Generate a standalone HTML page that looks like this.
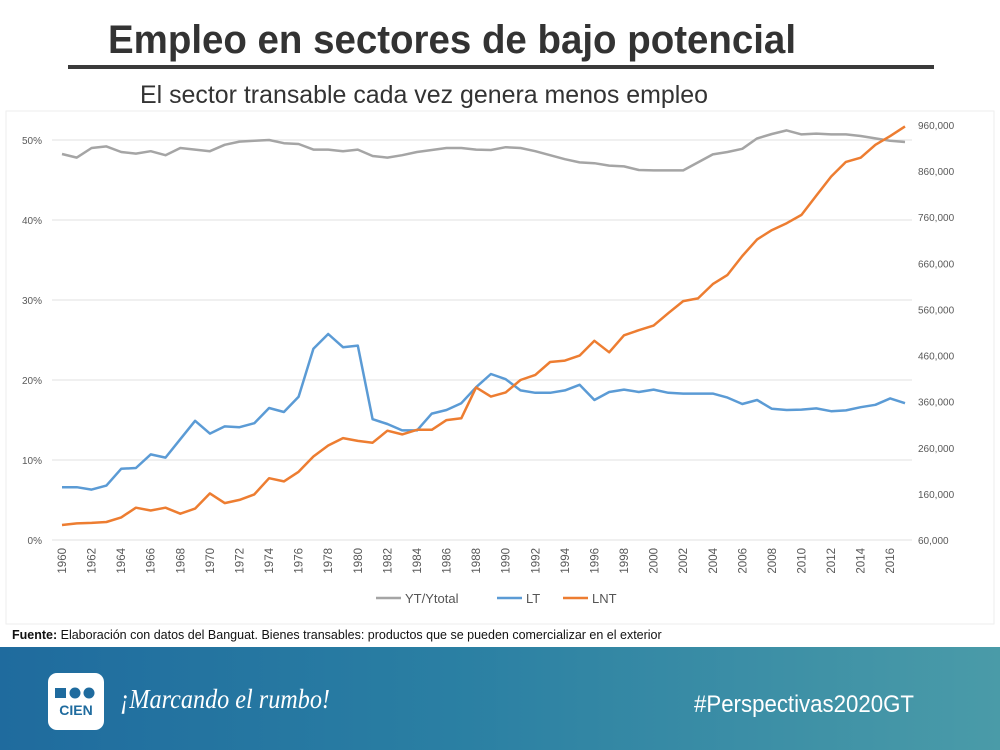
<!DOCTYPE html>
<html><head><meta charset="utf-8"><style>
html,body{margin:0;padding:0;width:1000px;height:750px;overflow:hidden;background:#fff}
svg{display:block}
</style></head><body>
<svg id="s" width="1000" height="750" viewBox="0 0 1000 750" xmlns="http://www.w3.org/2000/svg" font-family="'Liberation Sans Narrow','Liberation Sans',sans-serif">
<defs>
<linearGradient id="band" x1="0" x2="1" y1="0" y2="0"><stop offset="0" stop-color="#1f6b9e"/><stop offset="0.45" stop-color="#2a7fa3"/><stop offset="1" stop-color="#4a9ba8"/></linearGradient>
</defs>
<text x="108" y="53" font-size="40" font-weight="bold" fill="#333" textLength="688" lengthAdjust="spacingAndGlyphs">Empleo en sectores de bajo potencial</text>
<rect x="68" y="65" width="866" height="4" fill="#3a3a3a"/>
<text x="140" y="103" font-size="25" fill="#333" textLength="568" lengthAdjust="spacingAndGlyphs">El sector transable cada vez genera menos empleo</text>
<rect x="6" y="111" width="988" height="513" fill="#fff" stroke="#eee"/>
<g id="grid"></g>
<g id="series"></g>
<g id="axes" font-family="'Liberation Sans',sans-serif"></g>
<g font-family="'Liberation Sans',sans-serif" font-size="13" fill="#555">
<line x1="376" y1="598" x2="401" y2="598" stroke="#a5a5a5" stroke-width="2.5"/>
<text x="405" y="603">YT/Ytotal</text>
<line x1="497" y1="598" x2="522" y2="598" stroke="#5b9bd5" stroke-width="2.5"/>
<text x="526" y="603">LT</text>
<line x1="563" y1="598" x2="588" y2="598" stroke="#ed7d31" stroke-width="2.5"/>
<text x="592" y="603">LNT</text>
</g>
<text x="12" y="639" font-size="12.5" fill="#111"><tspan font-weight="bold">Fuente:</tspan> Elaboración con datos del Banguat. Bienes transables: productos que se pueden comercializar en el exterior</text>
<rect x="0" y="647" width="1000" height="103" fill="url(#band)"/>
<g>
<rect x="48" y="673" width="56" height="57" rx="9" fill="#fff"/>
<rect x="55" y="688" width="11" height="10" fill="#1f6b9e"/>
<circle cx="75" cy="693" r="5.5" fill="#1f6b9e"/><circle cx="89" cy="693" r="5.5" fill="#1f6b9e"/>
<text x="76" y="715" font-size="14" font-weight="bold" fill="#1f6b9e" text-anchor="middle" font-family="'Liberation Sans',sans-serif">CIEN</text>
</g>
<text x="120" y="708" font-size="27" font-style="italic" fill="#fff" font-family="'Liberation Serif',serif" textLength="210" lengthAdjust="spacingAndGlyphs">¡Marcando el rumbo!</text>
<text x="694" y="712" font-size="24" fill="#fff" font-family="'Liberation Sans',sans-serif" textLength="220" lengthAdjust="spacingAndGlyphs">#Perspectivas2020GT</text>
</svg>
<script>
const years=[];for(let y=1960;y<=2017;y++)years.push(y);
const ytShare=[48.25,47.8,49.0,49.2,48.5,48.3,48.6,48.1,49.0,48.8,48.6,49.4,49.8,49.9,50.0,49.6,49.5,48.8,48.8,48.6,48.8,48.0,47.8,48.1,48.5,48.75,49.0,49.0,48.8,48.75,49.1,49.0,48.6,48.1,47.6,47.2,47.1,46.8,46.7,46.25,46.2,46.2,46.2,47.2,48.2,48.5,48.9,50.2,50.75,51.2,50.7,50.8,50.7,50.7,50.5,50.2,49.9,49.75];
const ltShare=[6.6,6.6,6.3,6.8,8.9,9.0,10.7,10.3,12.6,14.9,13.3,14.2,14.1,14.6,16.5,16.0,17.9,23.9,25.75,24.1,24.3,15.1,14.5,13.7,13.7,15.8,16.25,17.1,19.1,20.75,20.1,18.7,18.4,18.4,18.7,19.4,17.5,18.5,18.8,18.5,18.8,18.4,18.3,18.3,18.3,17.8,17.0,17.5,16.4,16.25,16.3,16.45,16.1,16.2,16.6,16.9,17.7,17.1];
const lntJobs=[92500,96000,97000,99000,109000,130000,124000,130000,117000,128000,161000,140000,147000,159000,194000,187000,208000,241000,265000,281000,275000,271000,297000,289000,299000,299000,320000,324000,391000,371000,380000,407000,418000,446000,449000,460000,492000,467000,504000,515000,525000,552000,578000,584000,615000,635000,676000,712000,732000,747000,765000,807000,848000,880000,889000,917000,936000,957000];
const leftTicks=[0,10,20,30,40,50];
const rightTicks=[60000,160000,260000,360000,460000,560000,660000,760000,860000,960000];
const NS='http://www.w3.org/2000/svg';
const X0=62,XW=14.79,YB=540,YT=140;
const xs=y=>X0+(y-1960)*XW;
const yl=v=>YB-(v/50)*(YB-YT);
const yr=v=>YB-((v-60000)/900000)*(YB-125);
function mk(tag,attrs,parent){const e=document.createElementNS(NS,tag);for(const k in attrs)e.setAttribute(k,attrs[k]);parent.appendChild(e);return e;}
const grid=document.getElementById('grid'),axes=document.getElementById('axes'),ser=document.getElementById('series');
leftTicks.forEach(t=>{
 const l=mk('line',{x1:52,x2:912,y1:yl(t),y2:yl(t),stroke:'#e0e0e0','stroke-width':1},grid);
 
 
 const tx=mk('text',{x:42,y:yl(t)+4,'font-size':10,fill:'#595959','text-anchor':'end'},axes);
 tx.textContent=t+'%';
 
 
});
rightTicks.forEach(t=>{
 const tx=mk('text',{x:918,y:yr(t)+4,'font-size':10,fill:'#595959'},axes);
 tx.textContent=t.toLocaleString('en-US');
 
 
});
years.forEach((y,i)=>{
 if(i%2)return;
 const tx=mk('text',{x:0,y:0,'font-size':11.5,fill:'#595959','text-anchor':'end',transform:`translate(${xs(y)+4},${548}) rotate(-90)`},axes);
 tx.textContent=y;
 
 
});
function line(vals,fy,color,name){
 const d=vals.map((v,i)=>(i?'L':'M')+xs(years[i]).toFixed(1)+','+fy(v).toFixed(1)).join('');
 const p=mk('path',{d:d,fill:'none',stroke:color,'stroke-width':2.5,'stroke-linejoin':'round'},ser);
 
 
}
line(ytShare,yl,'#a5a5a5','series-yt-ytotal');
line(ltShare,yl,'#5b9bd5','series-lt');
line(lntJobs,yr,'#ed7d31','series-lnt');
</script>
</body></html>
